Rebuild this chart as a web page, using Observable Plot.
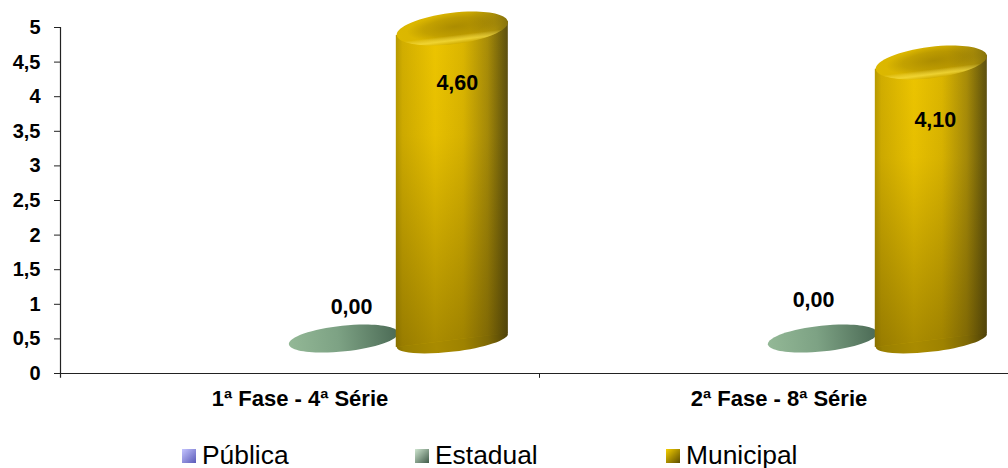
<!DOCTYPE html>
<html lang="pt">
<head>
<meta charset="utf-8">
<script src="https://cdn.jsdelivr.net/npm/d3@7"></script>
<script src="https://cdn.jsdelivr.net/npm/@observablehq/plot@0.6"></script>
<style>
  html, body { margin: 0; padding: 0; background: #fff; overflow: hidden; }
  #legend { position: relative; height: 38px; font: 26.4px "Liberation Sans", Arial, sans-serif; color: #000; }
  #legend span { position: absolute; top: 10px; line-height: 30px; white-space: nowrap; }
  #legend i { position: absolute; top: 19px; width: 14px; height: 14px; }
</style>
</head>
<body>
<div id="chart"></div>
<div id="legend"></div>
<script>
const categories = ["1ª Fase - 4ª Série", "2ª Fase - 8ª Série"];
const series = ["Pública", "Estadual", "Municipal"];
const publica = [null, null];
const estadual = [0, 0];
const municipal = [4.6, 4.1];
const yTicks = [0, 0.5, 1, 1.5, 2, 2.5, 3, 3.5, 4, 4.5, 5];

const comma = (v, digits) => (digits == null ? String(v) : v.toFixed(digits)).replace(".", ",");

// 3D projection of the original chart: the floor of the columns sits above the axis zero
const floor = 0.477, depthScale = 0.98;
const project = v => floor + depthScale * v;
const seriesOffset = [0.364, 0.591, 0.818];   // centre of each series inside a category
const halfWidth = 56 / 479;
const tilt = 0.1;                              // rise of the cylinder's ends, left to right

const rows = (vals, s) => vals.map((value, c) => ({value, x: c + seriesOffset[s], c, s})).filter(d => d.value != null);
const estadualRows = rows(estadual, 1);
const municipalRows = rows(municipal, 2);
// two edge points per cylinder: the body is an area whose ends follow the tilt
const bodyEdges = municipalRows.flatMap(d => [-1, 1].map(side => ({
  c: d.c,
  x: d.x + side * halfWidth,
  y1: project(0) + side * tilt,
  y2: project(d.value) + side * tilt
})));

// elliptical symbol for the tops and bases of the cylinders
const ellipse = ratio => ({
  draw(ctx, size) {
    const rx = Math.sqrt(size / Math.PI), ry = rx * ratio, k = 0.5522848;
    ctx.moveTo(-rx, 0);
    ctx.bezierCurveTo(-rx, -k * ry, -k * rx, -ry, 0, -ry);
    ctx.bezierCurveTo(k * rx, -ry, rx, -k * ry, rx, 0);
    ctx.bezierCurveTo(rx, k * ry, k * rx, ry, 0, ry);
    ctx.bezierCurveTo(-k * rx, ry, -rx, k * ry, -rx, 0);
    ctx.closePath();
  }
});

const defs = () => {
  const svg = d3.create("svg:defs");
  const lin = (id, stops, attrs = {x1: 0, y1: 0, x2: 1, y2: 0}) => {
    const g = svg.append("linearGradient").attr("id", id);
    Object.entries(attrs).forEach(([k, v]) => g.attr(k, v));
    stops.forEach(([o, c, a]) => g.append("stop").attr("offset", o).attr("stop-color", c).attr("stop-opacity", a ?? 1));
  };
  lin("goldBody", [[0, "#b89a00"], [0.06, "#d2ae00"], [0.35, "#edc500"], [0.6, "#dcb600"], [0.82, "#a88c08"], [0.95, "#70600c"], [1, "#5c4f10"]]);
  lin("goldShade", [[0, "#3a2c00", 0], [0.35, "#3a2c00", 0.04], [1, "#3a2c00", 0.38]], {x1: 0, y1: 0, x2: 0, y2: 1});
  lin("goldBase", [[0, "#887000"], [0.06, "#9a8000"], [0.35, "#a98b00"], [0.6, "#9e8200"], [0.82, "#7e6805"], [0.95, "#5b4c07"], [1, "#4c400a"]]);
  lin("goldCap", [[0, "#dcb800"], [0.3, "#dab500"], [0.65, "#cda900"], [0.88, "#a88c08"], [1, "#86720c"]]);
  lin("goldRim", [[0, "#fff080", 0], [0.72, "#fff080", 0], [0.88, "#ffe850", 0.6], [1, "#ffe850", 0]], {x1: 0, y1: 0, x2: 0, y2: 1});
  lin("green", [[0, "#93b896"], [0.45, "#7da284"], [1, "#4b6a55"]]);
  const r = svg.append("radialGradient").attr("id", "goldHollow").attr("cx", 0.52).attr("cy", 0.45).attr("r", 0.5);
  [[0, "#5a4600", 0.32], [0.55, "#5a4600", 0.18], [0.85, "#5a4600", 0]].forEach(([o, c, a]) =>
    r.append("stop").attr("offset", o).attr("stop-color", c).attr("stop-opacity", a));
  return svg.node();
};

const plot = Plot.plot({
  width: 1008,
  height: 430,
  marginTop: 27,
  marginBottom: 57,
  marginLeft: 60,
  marginRight: 0,
  style: {fontFamily: '"Liberation Sans", Arial, sans-serif', background: "#fff", color: "#000", overflow: "hidden"},
  x: {domain: [0, 2], range: [60, 1018], axis: null},
  y: {domain: [0, 5], axis: null},
  marks: [
    defs,
    // axes
    Plot.axisY({ticks: yTicks, tickSize: 6, tickPadding: 14, tickFormat: v => comma(v), fontSize: 20, fontWeight: "bold", stroke: "#222", fill: "#000", label: null}),
    Plot.ruleX([0], {y1: -0.07, y2: 5, stroke: "#222", strokeWidth: 1.2}),
    Plot.ruleY([0], {x1: 0, x2: 2, stroke: "#222", strokeWidth: 1.2}),
    Plot.ruleX([1], {y1: -0.07, y2: 0, stroke: "#222"}),
    Plot.text(categories, {x: (d, i) => i + 0.5, y: 0, dy: 25, text: d => d, fontWeight: "bold", fontSize: 22, lineAnchor: "middle", fill: "#000"}),

    // Estadual: value 0, only the flat disc
    Plot.dot(estadualRows, {x: "x", y: d => project(d.value), dy: -2, r: 55, symbol: ellipse(0.235), rotate: -6, fill: "url(#green)", stroke: "none"}),

    // Municipal cylinders
    Plot.dot(municipalRows, {x: "x", y: () => project(0), r: 56, symbol: ellipse(0.2), rotate: -7, fill: "url(#goldBase)", stroke: "none"}),
    Plot.areaY(bodyEdges, {x: "x", y1: "y1", y2: "y2", z: "c", fill: "url(#goldBody)"}),
    Plot.areaY(bodyEdges, {x: "x", y1: "y1", y2: "y2", z: "c", fill: "url(#goldShade)"}),
    Plot.dot(municipalRows, {x: "x", y: d => project(d.value), r: 56, symbol: ellipse(0.28), rotate: -7, fill: "url(#goldCap)", stroke: "none"}),
    Plot.dot(municipalRows, {x: "x", y: d => project(d.value), r: 56, symbol: ellipse(0.28), rotate: -7, fill: "url(#goldHollow)", stroke: "none"}),
    Plot.dot(municipalRows, {x: "x", y: d => project(d.value), r: 56, symbol: ellipse(0.28), rotate: -7, fill: "url(#goldRim)", stroke: "none"}),

    // value labels
    Plot.text([municipal[0]], {x: 0 + seriesOffset[2], y: project(municipal[0]), dx: 5, dy: 55, text: d => comma(d, 2), fontWeight: "bold", fontSize: 21.5, fill: "#000"}),
    Plot.text([municipal[1]], {x: 1 + seriesOffset[2], y: project(municipal[1]), dx: 4, dy: 58, text: d => comma(d, 2), fontWeight: "bold", fontSize: 21.5, fill: "#000"}),
    Plot.text([estadual[0]], {x: 0 + seriesOffset[1], y: project(estadual[0]), dx: 8, dy: -33, text: d => comma(d, 2), fontWeight: "bold", fontSize: 21.5, fill: "#000"}),
    Plot.text([estadual[1]], {x: 1 + seriesOffset[1], y: project(estadual[1]), dx: -9, dy: -40, text: d => comma(d, 2), fontWeight: "bold", fontSize: 21.5, fill: "#000"})
  ]
});
document.getElementById("chart").appendChild(plot);

const legendSwatches = ["linear-gradient(135deg,#c4c4ff,#5a5ab8)", "linear-gradient(135deg,#cfe6d0,#3f5a48)", "linear-gradient(135deg,#f5cf00,#5c4c00)"];
const legendLeft = [182, 415, 666];
const legend = document.getElementById("legend");
series.forEach((s, i) => {
  const sw = document.createElement("i");
  sw.style.left = legendLeft[i] + "px";
  sw.style.background = legendSwatches[i];
  const t = document.createElement("span");
  t.style.left = (legendLeft[i] + 20) + "px";
  t.textContent = s;
  legend.append(sw, t);
});
</script>
</body>
</html>
